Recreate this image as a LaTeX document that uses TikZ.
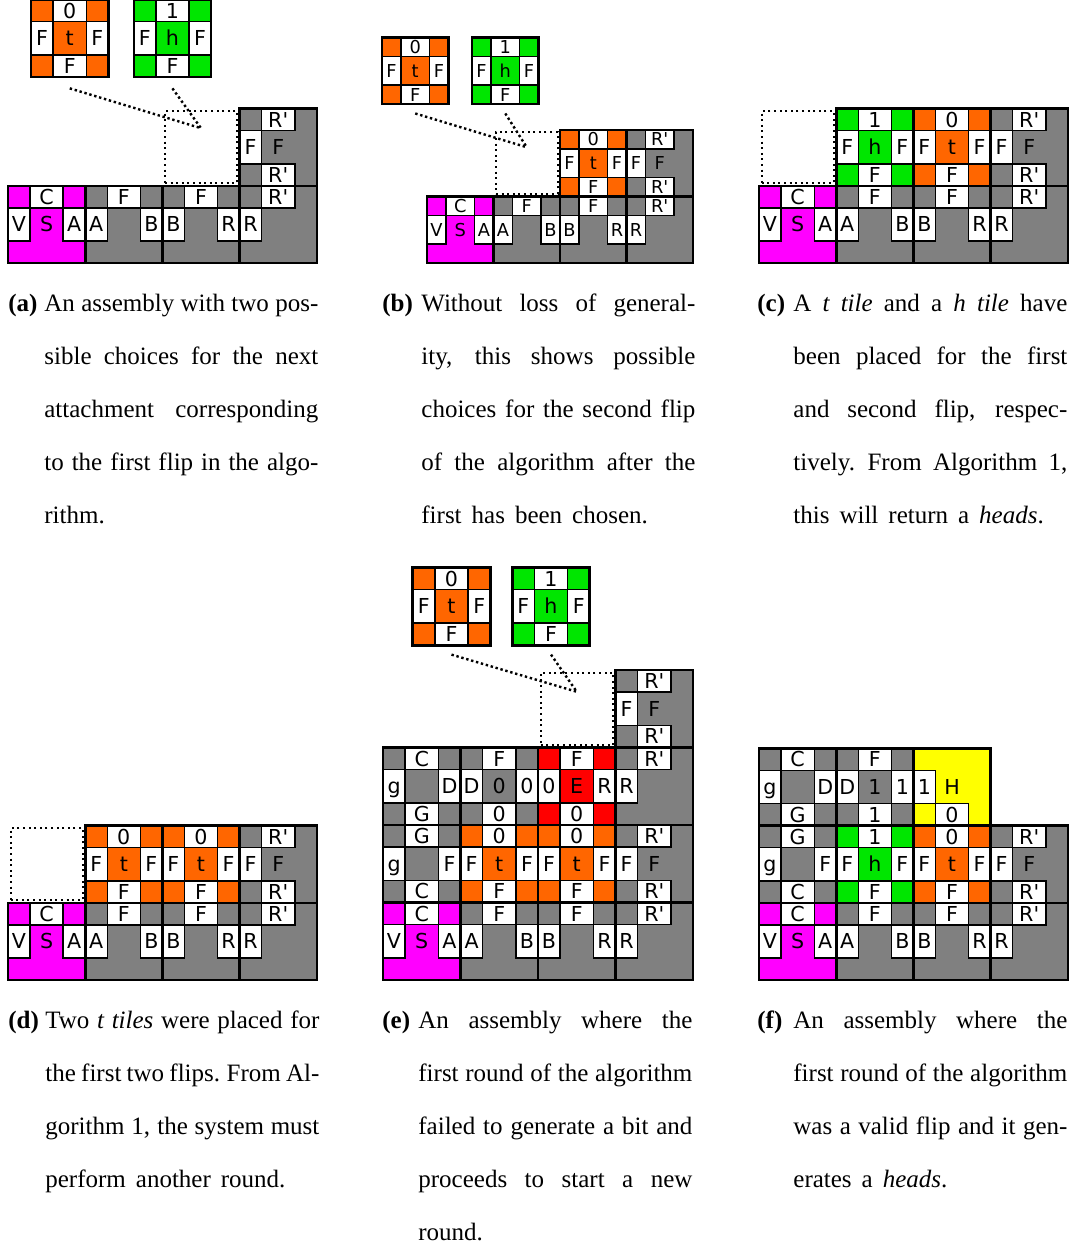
\documentclass[tikz,border=0pt]{standalone}
\usepackage{fontspec}
\setmainfont{Liberation Serif}
\newfontfamily\gluefont{DejaVu Sans}

\definecolor{tgray}{RGB}{128,128,128}
\definecolor{torange}{RGB}{255,102,0}
\definecolor{tgreen}{RGB}{0,230,0}
\definecolor{tmagenta}{RGB}{255,0,255}
\definecolor{tred}{RGB}{255,0,0}
\definecolor{tyellow}{RGB}{255,255,0}

\tikzset{
  cell/.style={draw=black, line width=0.7pt},
  tileline/.style={draw=black, line width=1.3pt},
  lbl/.style={font=\gluefont\fontsize{10.3}{10.3}\selectfont, inner sep=0pt, text height=7.5pt, text depth=0pt},
  tilebody/.style={minimum size=38.6pt, inner sep=0pt},
  slot/.style={draw=black, minimum size=#1, inner sep=0pt, line width=1pt, dash pattern=on 1pt off 1.8pt},
  link/.style={line width=1.2pt, dash pattern=on 1.2pt off 1.35pt},
  captext/.style={font=\fontsize{12.5}{26.5}\selectfont, inner sep=0pt},
  captbody/.style={captext, text width=137pt}
}

\newcommand{\Rp}{R\textquotesingle}
\newcommand{\capspace}{\spaceskip=5pt plus 5pt minus 2.6pt\xspaceskip=5.6pt plus 5pt minus 2.6pt\relax}
\newcommand{\jline}[1]{\leavevmode\hbox to 137pt{\capspace #1}\\}
% #1 empty: nothing, else #2
\newcommand{\ifglue}[2]{\if\relax\detokenize{#1}\relax\else#2\fi}

% \tile{x}{y}{colour}{centre}{north}{east}{south}{west}{name}
\newcommand{\tile}[9]{%
  \begin{scope}[shift={(#1,#2)}]
    \fill[#3] (0,0) rectangle (1,1);
    \ifglue{#5}{\ifglue{#8}{\draw[cell,fill=#3] (0,0.715) rectangle (0.285,1);}}
    \ifglue{#5}{\ifglue{#6}{\draw[cell,fill=#3] (0.715,0.715) rectangle (1,1);}}
    \ifglue{#7}{\ifglue{#8}{\draw[cell,fill=#3] (0,0) rectangle (0.285,0.285);}}
    \ifglue{#7}{\ifglue{#6}{\draw[cell,fill=#3] (0.715,0) rectangle (1,0.285);}}
    \ifglue{#5}{\draw[cell,fill=white] (0.285,0.715) rectangle (0.715,1);
      \node[lbl] (#9-n) at (0.5,0.8575) {#5};}
    \ifglue{#6}{\draw[cell,fill=white] (0.715,0.285) rectangle (1,0.715);
      \node[lbl] (#9-e) at (0.8575,0.5) {#6};}
    \ifglue{#7}{\draw[cell,fill=white] (0.285,0) rectangle (0.715,0.285);
      \node[lbl] (#9-s) at (0.5,0.1425) {#7};}
    \ifglue{#8}{\draw[cell,fill=white] (0,0.285) rectangle (0.285,0.715);
      \node[lbl] (#9-w) at (0.1425,0.5) {#8};}
    \ifglue{#4}{\node[lbl] (#9-c) at (0.5,0.5) {#4};}
    \node[tilebody] (#9) at (0.5,0.5) {};
    \draw[tileline] (0,0) rectangle (1,1);
  \end{scope}}

% seed row shared by all six assemblies
\newcommand{\baserow}[1]{%
  \tile{0}{0}{tmagenta}{S}{C}{A}{}{V}{#1S}
  \tile{1}{0}{tgray}{}{F}{B}{}{A}{#1A}
  \tile{2}{0}{tgray}{}{F}{R}{}{B}{#1B}
  \tile{3}{0}{tgray}{}{\Rp}{}{}{R}{#1R}}

\begin{document}
\begin{tikzpicture}[x=0.5pt,y=-0.5pt]
\useasboundingbox (0,0) rectangle (1075,1249);

% (a)
\begin{scope}[shift={(8,263)},x=38.6pt,y=38.6pt]
\baserow{a}
\tile{3}{1}{tgray}{F}{\Rp}{}{\Rp}{F}{aQ}
\node[slot=36pt] (aslot) at (2.5,1.5) {};
\tile{0.3}{2.41}{torange}{t}{0}{F}{F}{F}{at}
\tile{1.63}{2.41}{tgreen}{h}{1}{F}{F}{F}{ah}
\draw[link] ([yshift=-5.5pt]at.south) -- ([yshift=9.5pt]aslot.center);
\draw[link] ([yshift=-5.5pt]ah.south) -- ([yshift=9.5pt]aslot.center);
\end{scope}

% (b)
\begin{scope}[shift={(427,263)},x=33.25pt,y=33.25pt,
  tilebody/.style={minimum size=33.25pt, inner sep=0pt},
  lbl/.append style={font=\gluefont\fontsize{8.9}{8.9}\selectfont, text height=6.5pt}]
\baserow{b}
\tile{2}{1}{torange}{t}{0}{F}{F}{F}{bT}
\tile{3}{1}{tgray}{F}{\Rp}{}{\Rp}{F}{bQ}
\node[slot=30.8pt] (bslot) at (1.5,1.5) {};
\tile{-0.677}{2.39}{torange}{t}{0}{F}{F}{F}{bt}
\tile{0.677}{2.39}{tgreen}{h}{1}{F}{F}{F}{bh}
\draw[link] ([yshift=-4.5pt]bt.south) -- ([yshift=8pt]bslot.center);
\draw[link] ([yshift=-4.5pt]bh.south) -- ([yshift=8pt]bslot.center);
\end{scope}

% (c)
\begin{scope}[shift={(759,263)},x=38.6pt,y=38.6pt]
\baserow{c}
\tile{1}{1}{tgreen}{h}{1}{F}{F}{F}{cH}
\tile{2}{1}{torange}{t}{0}{F}{F}{F}{cT}
\tile{3}{1}{tgray}{F}{\Rp}{}{\Rp}{F}{cQ}
\node[slot=36pt] (cslot) at (0.5,1.5) {};
\end{scope}

% (d)
\begin{scope}[shift={(8,980)},x=38.6pt,y=38.6pt]
\baserow{d}
\tile{1}{1}{torange}{t}{0}{F}{F}{F}{dT}
\tile{2}{1}{torange}{t}{0}{F}{F}{F}{dU}
\tile{3}{1}{tgray}{F}{\Rp}{}{\Rp}{F}{dQ}
\node[slot=36pt] (dslot) at (0.5,1.5) {};
\end{scope}

% (e)
\begin{scope}[shift={(383,980)},x=38.75pt,y=38.75pt,
  tilebody/.style={minimum size=38.75pt, inner sep=0pt}]
\baserow{e}
\tile{0}{1}{tgray}{}{G}{F}{C}{g}{eG}
\tile{1}{1}{torange}{t}{0}{F}{F}{F}{eT}
\tile{2}{1}{torange}{t}{0}{F}{F}{F}{eU}
\tile{3}{1}{tgray}{F}{\Rp}{}{\Rp}{F}{eQ}
\tile{0}{2}{tgray}{}{C}{D}{G}{g}{eC}
\tile{1}{2}{tgray}{0}{F}{0}{0}{D}{eD}
\tile{2}{2}{tred}{E}{F}{R}{0}{0}{eE}
\tile{3}{2}{tgray}{}{\Rp}{}{}{R}{eR2}
\tile{3}{3}{tgray}{F}{\Rp}{}{\Rp}{F}{eQ2}
\node[slot=36.2pt] (eslot) at (2.5,3.5) {};
\tile{0.384}{4.32}{torange}{t}{0}{F}{F}{F}{et}
\tile{1.668}{4.32}{tgreen}{h}{1}{F}{F}{F}{eh}
\draw[link] ([yshift=-4.5pt]et.south) -- ([yshift=8.5pt]eslot.center);
\draw[link] ([yshift=-4.5pt]eh.south) -- ([yshift=8.5pt]eslot.center);
\end{scope}

% (f)
\begin{scope}[shift={(759,980)},x=38.6pt,y=38.6pt]
\baserow{f}
\tile{0}{1}{tgray}{}{G}{F}{C}{g}{fG}
\tile{1}{1}{tgreen}{h}{1}{F}{F}{F}{fH}
\tile{2}{1}{torange}{t}{0}{F}{F}{F}{fT}
\tile{3}{1}{tgray}{F}{\Rp}{}{\Rp}{F}{fQ}
\tile{0}{2}{tgray}{}{C}{D}{G}{g}{fC}
\tile{1}{2}{tgray}{1}{F}{1}{1}{D}{fD}
\tile{2}{2}{tyellow}{H}{}{}{0}{1}{fY}
\end{scope}

% captions
\node[captext, anchor=base west] (alabel) at (8,311) {\textbf{(a)}};
\node[captbody, anchor=base west] (atext) at (44,311) {\capspace
  \jline{An assembly with two pos-}\jline{sible choices for the next}%
  \jline{attachment corresponding}\jline{to the first flip in the algo-}rithm.};
\node[captext, anchor=base west] (blabel) at (382,311) {\textbf{(b)}};
\node[captbody, anchor=base west] (btext) at (421,311) {\capspace
  \jline{Without loss of general-}\jline{ity, this shows possible}%
  \jline{choices for the second flip}\jline{of the algorithm after the}first has been chosen.};
\node[captext, anchor=base west] (clabel) at (757,311) {\textbf{(c)}};
\node[captbody, anchor=base west] (ctext) at (793,311) {\capspace
  \jline{A \emph{t tile} and a \emph{h tile} have}\jline{been placed for the first}%
  \jline{and second flip, respec-}\jline{tively. From Algorithm 1,}this will return a \emph{heads}.};
\node[captext, anchor=base west] (dlabel) at (8,1028) {\textbf{(d)}};
\node[captbody, anchor=base west] (dtext) at (45,1028) {\capspace
  \jline{Two \emph{t tiles} were placed for}\jline{the first two flips. From Al-}%
  \jline{gorithm 1, the system must}perform another round.};
\node[captext, anchor=base west] (elabel) at (382,1028) {\textbf{(e)}};
\node[captbody, anchor=base west] (etext) at (418,1028) {\capspace
  \jline{An assembly where the}\jline{first round of the algorithm}%
  \jline{failed to generate a bit and}\jline{proceeds to start a new}round.};
\node[captext, anchor=base west] (flabel) at (757,1028) {\textbf{(f)}};
\node[captbody, anchor=base west] (ftext) at (793,1028) {\capspace
  \jline{An assembly where the}\jline{first round of the algorithm}%
  \jline{was a valid flip and it gen-}erates a \emph{heads}.};
\end{tikzpicture}
\end{document}
